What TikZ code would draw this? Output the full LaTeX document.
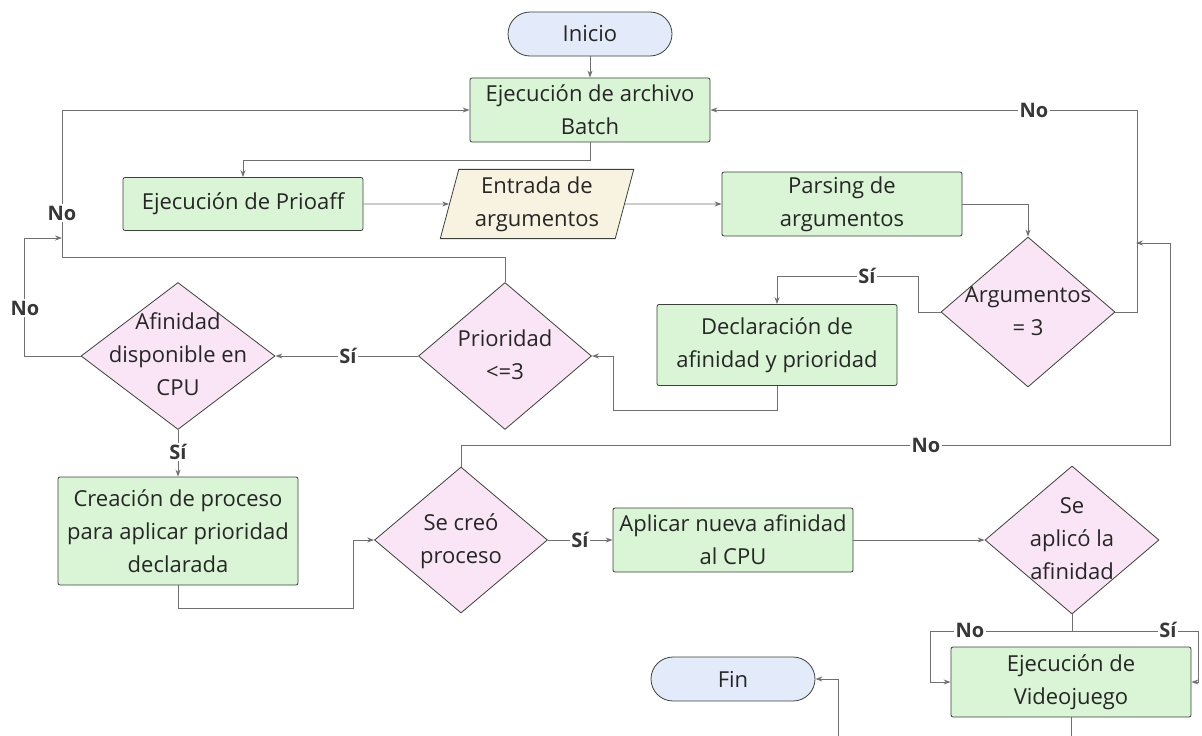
\documentclass[tikz,border=0pt]{standalone}
\usepackage{fontspec}
\setmainfont{Open Sans}
\usetikzlibrary{shapes.geometric, arrows.meta}
\definecolor{procfill}{RGB}{217,245,213}
\definecolor{decfill}{RGB}{249,229,245}
\definecolor{termfill}{RGB}{227,234,249}
\definecolor{iofill}{RGB}{248,243,224}
\definecolor{linegray}{RGB}{112,112,112}
\definecolor{edgegray}{RGB}{58,66,58}
\definecolor{lblgray}{RGB}{55,55,55}
\newcommand{\dtext}[1]{\makebox[0pt]{\smash{\raisebox{-0.25em}{\begin{tabular}{@{}c@{}}#1\end{tabular}}}}}
\tikzset{
  base/.style={draw=edgegray, line width=0.8pt, font=\fontsize{22}{33}\selectfont, text=black!85, inner sep=0pt},
  proc/.style={base, rectangle, rounded corners=2pt, fill=procfill, minimum height=64, align=center},
  term/.style={base, rectangle, rounded corners=22, fill=termfill, minimum width=164, minimum height=44},
  io/.style={base, trapezium, trapezium left angle=75, trapezium right angle=105, fill=iofill, align=center},
  decision/.style={base, diamond, fill=decfill},
  flow/.style={draw=linegray, line width=0.9pt, -{Stealth[length=7pt, width=5pt]}},
  link/.style={draw=linegray, line width=0.9pt},
  lbl/.style={font=\bfseries\fontsize{20}{24}\selectfont, text=lblgray, fill=white, inner sep=1.5pt},
}

\begin{document}
\begin{tikzpicture}[x=1pt, y=-1pt]
      \def\bw{240}
      \useasboundingbox (0,0) rectangle (1202,736);
      \clip (0,0) rectangle (1202,736);

      % Nodes
      \node[term] (ini) at (590,34) {Inicio};
      \node[proc, minimum width=\bw] (batch) at (590,110) {Ejecución de archivo\\Batch};
      \node[proc, minimum width=\bw, minimum height=53] (prio) at (243,204) {Ejecución de Prioaff};
      \node[io, minimum width=194, minimum height=65] (entrada) at (537,204) {Entrada de\\argumentos};
      \node[proc, minimum width=\bw] (parse) at (842,204) {Parsing de\\argumentos};
      \node[decision, minimum width=174, minimum height=150] (args) at (1028,312) {\dtext{Argumentos\\= 3}};
      \node[proc, minimum width=\bw, minimum height=81] (decl) at (777,345) {Declaración de\\afinidad y prioridad};
      \node[decision, minimum width=173, minimum height=147] (prior) at (505,356) {\dtext{Prioridad\\<=3}};
      \node[decision, minimum width=194, minimum height=147] (afin) at (178,356) {\dtext{Afinidad\\disponible en\\CPU}};
      \node[proc, minimum width=\bw, minimum height=108] (crea) at (178,531) {Creación de proceso\\para aplicar prioridad\\declarada};
      \node[decision, minimum width=173, minimum height=146] (creo) at (461,540) {\dtext{Se creó\\proceso}};
      \node[proc, minimum width=\bw] (apl) at (733,540) {Aplicar nueva afinidad\\al CPU};
      \node[decision, minimum width=174, minimum height=148] (aplico) at (1072,540) {\dtext{Se\\aplicó la\\afinidad}};
      \node[proc, minimum width=\bw, minimum height=70] (video) at (1071,682) {Ejecución de\\Videojuego};
      \node[term] (fin) at (733,679) {Fin};
      \coordinate (mergeL) at (62,238);
      \coordinate (mergeR) at (1136,243);

      % Main flow
      \draw[flow] (ini) -- (batch);
      \draw[flow] (batch.south) -- ++(0,18) -| (prio.north);
      \draw[flow] (prio) -- (entrada);
      \draw[flow] (entrada) -- (parse);
      \draw[flow] (parse.east) -| (args.north);
      \draw[flow] (args.east) -- ++(22,0) |- (batch.east);
      \draw[flow] (args.west) -- ++(-22,0) -- ++(0,-36) -| (decl.north);
      \draw[flow] (decl.south) -- ++(0,25) -- ++(-164,0) |- (prior.east);
      \draw[flow] (prior.west) -- (afin.east);
      \draw[flow] (prior.north) -- ++(0,-25) -- ++(-443,0) |- (batch.west);
      \draw[flow] (afin.west) -- ++(-56,0) |- (mergeL);
      \draw[flow] (afin.south) -- (crea.north);
      \draw[flow] (crea.south) -- ++(0,23) -- ++(175,0) |- (creo.west);
      \draw[flow] (creo.east) -- (apl.west);
      \draw[flow] (creo.north) -- ++(0,-21) -- ++(709,0) |- (mergeR);
      \draw[flow] (apl) -- (aplico);
      \draw[link] (aplico.south) -- ++(0,17);
      \draw[flow] (aplico.south) ++(0,17) -- ++(-142,0) |- (video.west);
      \draw[flow] (aplico.south) ++(0,17) -- ++(126,0) |- (video.east);
      \draw[flow] (video.south) -- ++(0,40) -- ++(-233,0) |- (fin.east);

      % Branch labels
      \node[lbl] (no1) at (1034,110) {No};
      \node[lbl] (si1) at (867,276) {Sí};
      \node[lbl] (no2) at (62,213) {No};
      \node[lbl] (no3) at (25,308) {No};
      \node[lbl] (si2) at (348,356) {Sí};
      \node[lbl] (si3) at (178,452) {Sí};
      \node[lbl] (si4) at (580,540) {Sí};
      \node[lbl] (no4) at (926,445) {No};
      \node[lbl] (no5) at (970,630) {No};
      \node[lbl] (si5) at (1168,630) {Sí};
\end{tikzpicture}
\end{document}
